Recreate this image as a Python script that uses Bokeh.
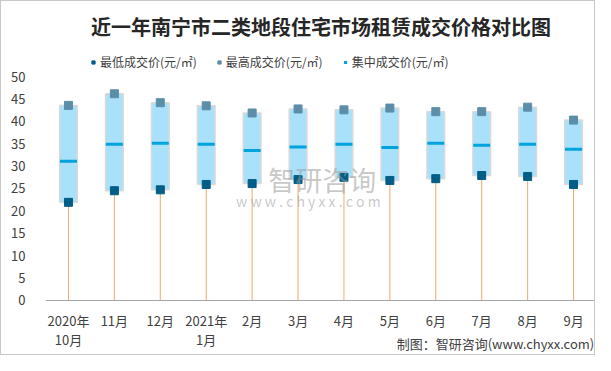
from bokeh.plotting import figure
from bokeh.models import (ColumnDataSource, Legend, LegendItem, FixedTicker, Label, Range1d)
from bokeh.embed import file_html
from bokeh.resources import INLINE

months = ["2020年\n10月", "11月", "12月", "2021年\n1月", "2月", "3月", "4月", "5月", "6月", "7月", "8月", "9月"]
low_price = [21.9, 24.5, 24.7, 25.9, 26.1, 27.0, 27.5, 26.8, 27.2, 27.9, 27.7, 25.9]
high_price = [43.6, 46.2, 44.2, 43.5, 41.9, 42.8, 42.6, 43.0, 42.2, 42.2, 43.2, 40.3]
mid_price = [31.1, 34.9, 35.1, 34.9, 33.5, 34.3, 34.9, 34.2, 35.1, 34.7, 34.9, 33.8]
y_ticks = [0, 5, 10, 15, 20, 25, 30, 35, 40, 45, 50]

FONT = "Noto Sans CJK SC"
xs = list(range(len(months)))
src = ColumnDataSource(dict(x=xs, low=low_price, high=high_price, mid=mid_price, zero=[0] * len(xs)))

p = figure(width=595, height=355, output_backend="svg", toolbar_location=None,
           x_range=Range1d(-0.5, 11.5), y_range=Range1d(-12.6, 57.0),
           min_border_left=44, min_border_right=0, min_border_top=44, min_border_bottom=0)
p.outline_line_color = None
p.border_fill_color = "white"
p.background_fill_color = "white"
p.xgrid.visible = False
p.ygrid.visible = False
p.styles = {"border": "1px solid #C8C8C8", "box-sizing": "border-box"}

# stems from 0 to low
p.segment(x0="x", y0="zero", x1="x", y1="low", source=src, line_color="#F2A96B", line_width=1)
# boxes
p.vbar(x="x", bottom="low", top="high", width=0.385, source=src,
       fill_color="#A9E1FA", line_color="#D9D9D9", line_width=1.5)
r_mid = p.scatter(x="x", y="mid", source=src, marker="dash", size=17, line_width=3,
                  line_color="#00A3DD", fill_color="#00A3DD")
r_high = p.scatter(x="x", y="high", source=src, marker="square", size=8,
                   fill_color="#5C8EAA", line_color="#5C8EAA")
r_low = p.scatter(x="x", y="low", source=src, marker="square", size=8,
                  fill_color="#005E87", line_color="#005E87")

# axes
p.xaxis.fixed_location = 0
p.xaxis.ticker = FixedTicker(ticks=xs)
p.xaxis.major_label_overrides = {i: m for i, m in enumerate(months)}
p.xaxis.axis_line_color = "#A6A6A6"
p.xaxis.major_tick_line_color = None
p.xaxis.minor_tick_line_color = None
p.xaxis.major_label_standoff = 5
p.xaxis.major_label_text_font = FONT
p.xaxis.major_label_text_font_size = "13px"
p.xaxis.major_label_text_color = "#404040"
p.xaxis.major_label_text_line_height = 1.0

p.yaxis.ticker = FixedTicker(ticks=y_ticks)
p.yaxis.axis_line_color = None
p.yaxis.major_tick_line_color = None
p.yaxis.minor_tick_line_color = None
p.yaxis.major_label_standoff = 14
p.yaxis.major_label_text_font = FONT
p.yaxis.major_label_text_font_size = "13px"
p.yaxis.major_label_text_color = "#404040"

# legend
legend = Legend(items=[
    LegendItem(label="最低成交价(元/㎡)", renderers=[r_low]),
    LegendItem(label="最高成交价(元/㎡)", renderers=[r_high]),
    LegendItem(label="集中成交价(元/㎡)", renderers=[r_mid]),
], orientation="horizontal", location=(44, 286), border_line_color=None,
    background_fill_alpha=0, label_text_font=FONT, label_text_font_size="12px",
    label_text_color="#404040", glyph_width=8, glyph_height=8, label_standoff=3,
    spacing=18, padding=2, margin=0)
p.add_layout(legend, "center")

# watermark
p.add_layout(Label(x=4.35, y=27.0, text="智研咨询", text_font=FONT, text_font_size="27px",
                   text_color="#9A9A9A", text_alpha=0.55, text_align="left", text_baseline="middle"))
p.add_layout(Label(x=3.65, y=22.3, text="w w w . c h y x x . c o m", text_font=FONT, text_font_size="14px",
                   text_color="#9A9A9A", text_alpha=0.55, text_align="left", text_baseline="middle"))

# source note (below the axis, right aligned)
p.add_layout(Label(x=11.45, y=-9.6, text="制图：智研咨询(www.chyxx.com)", text_font=FONT,
                   text_font_size="13px", text_color="#404040", text_align="right",
                   text_baseline="middle"))

# title
p.title.text = "近一年南宁市二类地段住宅市场租赁成交价格对比图"
p.title.align = "center"
p.title.text_font = FONT
p.title.text_font_size = "20px"
p.title.text_font_style = "bold"
p.title.text_color = "#262626"
p.title.standoff = 10

open("out.html", "w").write(file_html(p, INLINE))
